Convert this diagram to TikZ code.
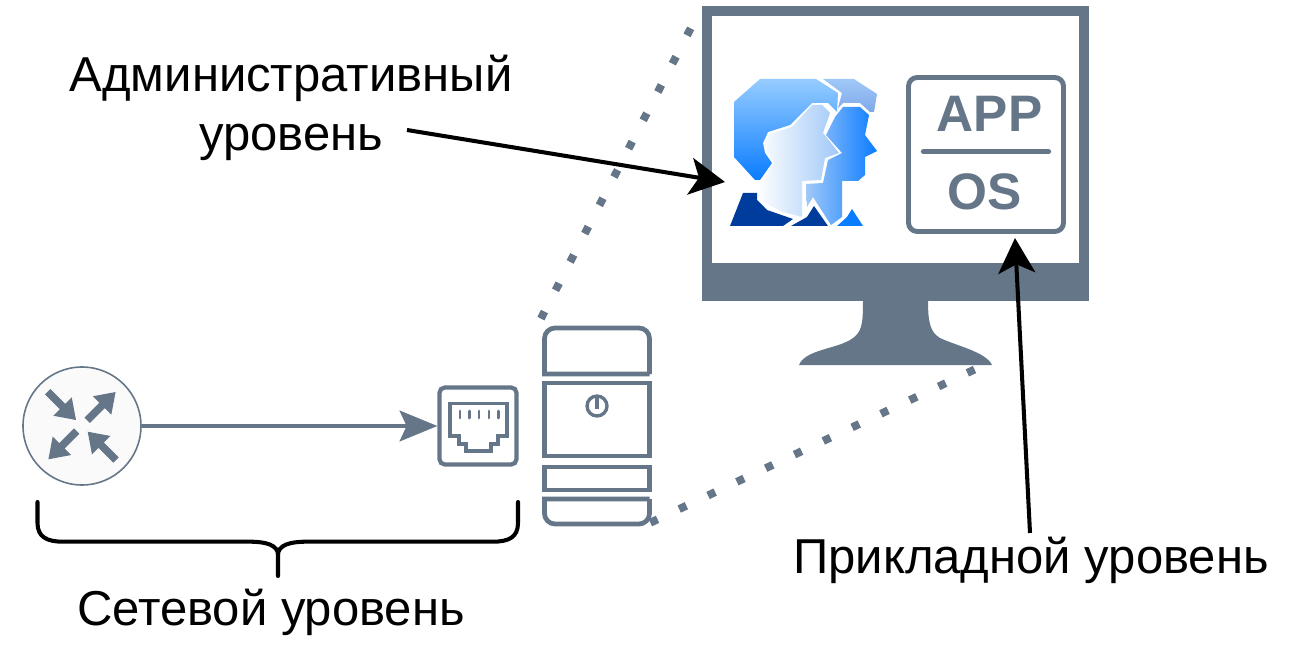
\documentclass[tikz,border=0pt]{standalone}
\usepackage{fontspec}
\setmainfont{Liberation Sans}
\usetikzlibrary{arrows.meta,positioning}
\definecolor{slate}{HTML}{647687}
\definecolor{darkblue}{HTML}{003C9C}
\definecolor{lightblue}{HTML}{96CCFF}
\definecolor{midblue}{HTML}{0A7CFF}
\definecolor{paleblue}{HTML}{A0C8F8}
\definecolor{backblue}{HTML}{7FA8EA}
\tikzset{
  label text/.style={font=\fontsize{27.9pt}{34pt}\selectfont, align=center, inner sep=0pt},
  box text/.style={font=\fontsize{29.2pt}{30pt}\selectfont\bfseries, text=slate, inner sep=0pt},
  pointer/.style={draw=black, line width=2.3pt, -{Stealth[length=20pt,width=21pt,inset=5pt]}},
  slate line/.style={draw=slate, line width=2.7pt},
  dot line/.style={draw=slate, line width=4.5pt, dash pattern=on 4.5pt off 13.64pt},
  brace line/.style={draw=black, line width=2.3pt, line cap=round},
}
\begin{document}
\begin{tikzpicture}[x=0.02cm,y=-0.02cm]
\useasboundingbox (0,0) rectangle (1312,672);
% dotted zoom lines
\coordinate (zoomA) at (540.9,318.6);
\coordinate (zoomB) at (691.5,26.7);
\coordinate (zoomC) at (650.4,522.7);
\coordinate (zoomD) at (975.6,369);
\draw[dot line] (zoomA) -- (zoomB);
\draw[dot line] (zoomC) -- (zoomD);
% monitor
\fill[slate] (702,6) rectangle (1089,301);
\node[fill=white, minimum width=0.02cm*367, minimum height=0.02cm*247, inner sep=0pt] (screen) at (895.5,139.5) {};
\fill[slate] (863,300) .. controls (863,325) and (862,333) .. (850,340)
  .. controls (835,349) and (805,350) .. (799,365) -- (992,365)
  .. controls (986,352) and (957,346) .. (940,338)
  .. controls (930,332) and (928,322) .. (928,300) -- cycle;
% people icon
\shade[top color=lightblue, bottom color=midblue] (760,79) -- (816,79) -- (838,93) -- (837,112) -- (828,103) -- (812,103)
  -- (790,125) -- (768,132) -- (763,143) -- (765,153) -- (772,163) -- (760,180) -- (755,180) -- (734,157) -- (734,102) -- cycle;
\shade[top color=paleblue, bottom color=backblue] (823,79) -- (854,79) -- (877,94) -- (874,112) -- (870,112) -- (860,103)
  -- (843,103) -- (838,108) -- (842,93) -- cycle;
\shade[left color=paleblue, right color=midblue] (835,117) -- (843,107) -- (860,107) -- (869,115) -- (865,135) -- (877,151)
  -- (865,157) -- (865,175) -- (858,181) -- (842,181) -- (842,217) -- (831,225) -- (813,197) -- (807,207) -- (806,184)
  -- (823,183) -- (828,160) -- (842,153) -- (826,135) -- cycle;
\shade[left color=white, right color=paleblue] (812,105) -- (822,105) -- (830,113) -- (823,133) -- (839,153) -- (825,158)
  -- (821,180) -- (802,181) -- (802,217) -- (783,212) -- (765,203) -- (757,193) -- (757,183) -- (762,181) -- (774,163)
  -- (765,148) -- (765,142) -- (770,134) -- (792,127) -- cycle;
\fill[darkblue] (743,193) -- (757,193) -- (757,200) -- (767,210) -- (793,219) -- (783,226) -- (730,226) -- cycle;
\fill[darkblue] (814,206) -- (828,226) -- (791,226) -- (807,217) -- cycle;
\fill[midblue] (852,209) -- (863,226) -- (837,226) -- (847,217) -- cycle;
% app box
\node[draw=slate, line width=2.8pt, rounded corners=5pt, minimum width=0.02cm*155, minimum height=0.02cm*154, inner sep=0pt] (appbox) at (986,154.5) {};
\node[box text] (apptext) at (989.5,114) {APP};
\node[box text] (ostext) at (985,192) {OS};
\draw[slate line, line width=3pt, line cap=round] (923.5,151.7) -- (1048.5,151.7);
% router
\node[circle, draw=slate, fill=black!2, line width=0.9pt, minimum size=0.02cm*118, inner sep=0pt] (router) at (82,426) {};
\foreach \tx/\ty/\ang in {87.3/420.3/45, 47.7/391.7/-45, 76.7/431/225, 116/460/135}
  \fill[slate, shift={(\tx,\ty)}, rotate=\ang] (0,-3.8) -- (21,-3.8) -- (21,-13) -- (40,0) -- (21,13) -- (21,3.8) -- (0,3.8) -- cycle;
% port
\node[draw=slate, line width=2.4pt, rounded corners=3pt, minimum size=0.02cm*77, inner sep=0pt] (port) at (478,426) {};
\draw[slate line, line width=2.1pt] (450,403.5) -- (507,403.5) -- (507,436) -- (498,436) -- (498,444) -- (491,444) -- (491,451) -- (466,451) -- (466,444) -- (459,444) -- (459,436) -- (450,436) -- cycle;
\foreach \x in {460,469.5,479,489,498.5}
  \draw[slate, line width=1.7pt, line cap=round] (\x,411) -- (\x,418);
% server
\draw[slate line] (649.5,374) -- (544.5,374) [rounded corners=6pt] -- (544.5,328) -- (649.5,328) [sharp corners] -- (649.5,374);
\draw[slate line] (544.5,383) rectangle (649.5,456);
\draw[slate line] (544.5,467) rectangle (649.5,490);
\draw[slate line] (649.5,499) -- (544.5,499) [rounded corners=6pt] -- (544.5,524) -- (649.5,524) [sharp corners] -- (649.5,499);
\draw[slate, line width=1.9pt] (597,406) circle (10);
\draw[slate, line width=1.9pt] (597,398) -- (597,409);
% connectors
\draw[slate line, line width=2.1pt, -{Stealth[length=21.5pt,width=17.5pt,inset=4pt]}] (router) -- (port);
% brace
\draw[brace line] (37.5,502) -- (37.5,523) .. controls (37.5,537) and (47,541.7) .. (63,541.7) -- (250,541.7) .. controls (266,541.7) and (278,545) .. (278,555) -- (278,576);
\draw[brace line] (518,502) -- (518,523) .. controls (518,537) and (509,541.7) .. (493,541.7) -- (306,541.7) .. controls (290,541.7) and (278,545) .. (278,555);
% labels
\node[label text] (admintext) at (291,108) {Административный\\уровень};
\node[label text] (nettext) at (271,612) {Сетевой уровень};
\node[label text] (applabel) at (1031,560) {Прикладной уровень};
\coordinate (adminstart) at (407,130);
\coordinate (admintip) at (725,182);
\coordinate (appstart) at (1030,533);
\coordinate (apptip) at (1015,238);
\draw[pointer] (adminstart) -- (admintip);
\draw[pointer] (appstart) -- (apptip);
\end{tikzpicture}
\end{document}
